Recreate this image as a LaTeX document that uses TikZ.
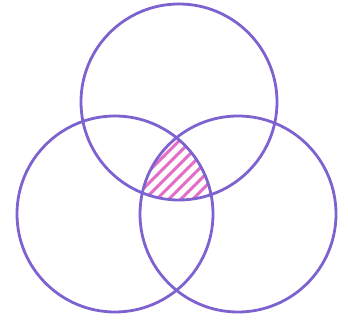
\documentclass[tikz,border=0pt]{standalone}
\usetikzlibrary{patterns.meta}
\definecolor{venn}{HTML}{7E63D0}
\definecolor{hatch}{HTML}{E46CC8}
\begin{document}
\begin{tikzpicture}[x=1pt,y=-1pt]
  \useasboundingbox (0,0) rectangle (348,320);
  % Centres
  \coordinate (top) at (179,102);
  \coordinate (left) at (115,214);
  \coordinate (right) at (238,214);
  % Hatched middle
  \begin{scope}
    \clip (top) circle[radius=98];
    \clip (left) circle[radius=98];
    \clip (right) circle[radius=98];
    \fill[pattern={Lines[angle=45,distance=8.5pt,line width=3pt]},pattern color=hatch]
      (100,100) rectangle (260,230);
  \end{scope}
  % Circles
  \draw[venn,line width=2.8pt] (top) circle[radius=98];
  \draw[venn,line width=2.8pt] (left) circle[radius=98];
  \draw[venn,line width=2.8pt] (right) circle[radius=98];
\end{tikzpicture}
\end{document}
